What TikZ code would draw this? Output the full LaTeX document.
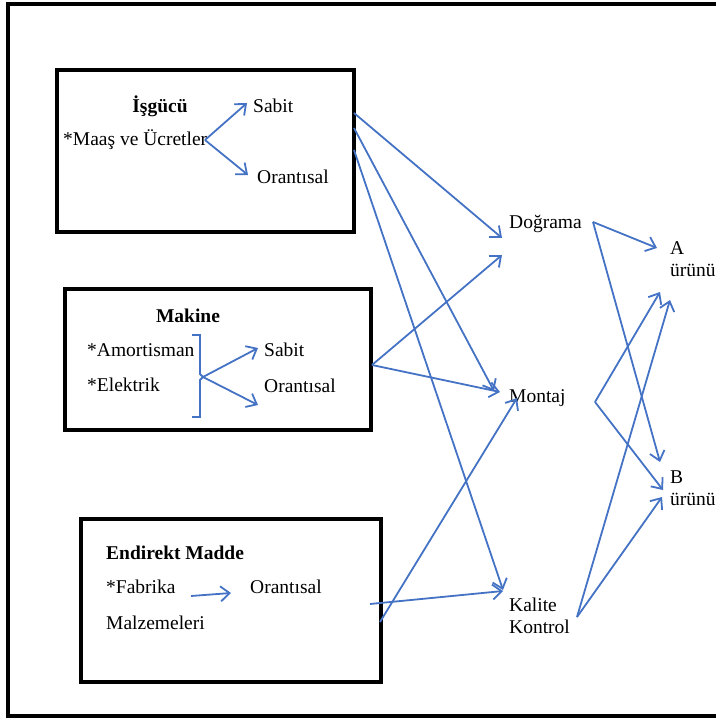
\documentclass[tikz,border=0pt]{standalone}
\usepackage{fontspec}
\setmainfont{Liberation Serif}
\usetikzlibrary{arrows.meta}
\definecolor{arrowblue}{RGB}{68,114,196}
\begin{document}
\begin{tikzpicture}[x=1pt,y=-1pt,
  box/.style={draw,line width=4pt},
  lbl/.style={inner sep=0pt,anchor=west,align=left,font=\fontsize{19.5}{22}\selectfont},
  ttl/.style={inner sep=0pt,font=\fontsize{19.5}{22}\selectfont\bfseries},
  conn/.style={draw=arrowblue,line width=1.8pt,-{Straight Barb[length=9pt,width=15pt]}},
  brace/.style={draw=arrowblue,line width=1.8pt}]
\useasboundingbox (0,0) rectangle (715,720);
% outer frame
\draw[line width=4pt] (8,4) rectangle (740,716);
% boxes
\draw[box] (57,70) rectangle (354,232);
\draw[box] (65,289) rectangle (371,430);
\draw[box] (81,519) rectangle (381,682);
% box 1 texts
\node[ttl] (isg) at (160,106) {İşgücü};
\node[lbl] (maas) at (63,140) {*Maaş ve Ücretler};
\node[lbl] (sabit1) at (253,106) {Sabit};
\node[lbl] (oran1) at (257,177) {Orantısal};
% box 2 texts
\node[ttl] (mak) at (188,316) {Makine};
\node[lbl] (amort) at (87,350) {*Amortisman};
\node[lbl] (elek) at (87,385) {*Elektrik};
\node[lbl] (sabit2) at (264,350) {Sabit};
\node[lbl] (oran2) at (264,386) {Orantısal};
% box 3 texts
\node[ttl,anchor=west] (endir) at (106,553) {Endirekt Madde};
\node[lbl] (fabr) at (106,587) {*Fabrika};
\node[lbl] (malz) at (106,623) {Malzemeleri};
\node[lbl] (oran3) at (250,587) {Orantısal};
% right nodes
\node[lbl] (dog) at (509,224) {Doğrama};
\node[lbl] (mon) at (509,398) {Montaj};
\node[lbl] (kal) at (509,616) {Kalite\\Kontrol};
\node[lbl] (urA) at (670,259) {A\\ürünü};
\node[lbl] (urB) at (670,488) {B\\ürünü};
% coordinates
\coordinate (mv) at (205,140);
\coordinate (s1t) at (247,103);
\coordinate (o1t) at (248,175);
\coordinate (bk) at (203,377);
\coordinate (s2t) at (258,348);
\coordinate (o2t) at (258,405);
\coordinate (fb) at (191,596);
\coordinate (o3t) at (231,593);
\coordinate (b1a) at (354,113);
\coordinate (b1b) at (354,128);
\coordinate (b1c) at (354,150);
\coordinate (b2) at (372,365);
\coordinate (b3a) at (370,604);
\coordinate (b3b) at (380,622);
\coordinate (dogA) at (502,238);
\coordinate (dogB) at (502,255);
\coordinate (monA) at (494,391);
\coordinate (monB) at (500,392);
\coordinate (monC) at (517,398);
\coordinate (kalA) at (503,590);
\coordinate (kalB) at (503,591);
\coordinate (dOut) at (593,222);
\coordinate (mOut) at (595,402);
\coordinate (kOut) at (577,617);
\coordinate (aA) at (657,248);
\coordinate (aB) at (660,292);
\coordinate (aC) at (670,300);
\coordinate (bA) at (660,462);
\coordinate (bB) at (663,490);
\coordinate (bC) at (662,497);
% inner arrows
\draw[conn] (mv) -- (s1t);
\draw[conn] (mv) -- (o1t);
\draw[brace] (192,335) -- (200,335) -- (200,374) -- (bk) -- (200,380) -- (200,417) -- (192,417);
\draw[conn] (bk) -- (s2t);
\draw[conn] (bk) -- (o2t);
\draw[conn] (fb) -- (o3t);
% connectors
\draw[conn] (b1a) -- (dogA);
\draw[conn] (b1b) -- (monA);
\draw[conn] (b1c) -- (kalA);
\draw[conn] (b2) -- (dogB);
\draw[conn] (b2) -- (monB);
\draw[conn] (b3a) -- (kalB);
\draw[conn] (b3b) -- (monC);
\draw[conn] (dOut) -- (aA);
\draw[conn] (dOut) -- (bA);
\draw[conn] (mOut) -- (aB);
\draw[conn] (mOut) -- (bB);
\draw[conn] (kOut) -- (aC);
\draw[conn] (kOut) -- (bC);
\end{tikzpicture}
\end{document}
